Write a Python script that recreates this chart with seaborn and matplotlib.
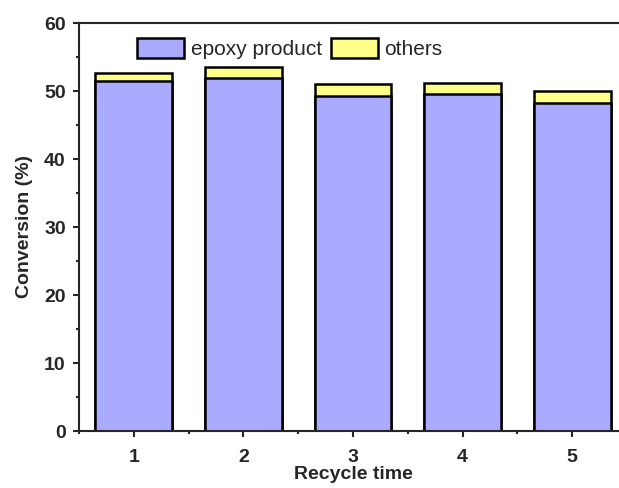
import matplotlib
matplotlib.use("Agg")
import matplotlib.pyplot as plt
from matplotlib.patches import Patch
from matplotlib.ticker import MultipleLocator
import seaborn as sns
import pandas as pd

# values
recycle = ["1", "2", "3", "4", "5"]
epoxy = [51.4, 51.9, 49.3, 49.6, 48.2]
others = [1.3, 1.6, 1.7, 1.6, 1.8]

epoxy_color = "#AAAAFF"
others_color = "#FFFF88"

sns.set_style("ticks")
plt.rcParams["font.family"] = ["Liberation Sans", "DejaVu Sans"]

df = pd.DataFrame({"recycle": recycle, "epoxy": epoxy, "others": others})
df["total"] = df["epoxy"] + df["others"]

fig = plt.figure(figsize=(6.19, 4.88), dpi=100)
ax = fig.add_axes([79 / 619, 1 - 431 / 488, 548 / 619, 408 / 488])

# stacked bars: draw the total in yellow, then the epoxy part over it
sns.barplot(data=df, x="recycle", y="total", color=others_color, width=0.7,
            edgecolor="black", linewidth=1.8, saturation=1, ax=ax)
sns.barplot(data=df, x="recycle", y="epoxy", color=epoxy_color, width=0.7,
            edgecolor="black", linewidth=1.8, saturation=1, ax=ax)

ax.set_xlim(-0.5, 4.5)
ax.set_ylim(0, 60)
ax.yaxis.set_major_locator(MultipleLocator(10))
ax.yaxis.set_minor_locator(MultipleLocator(5))
ax.xaxis.set_minor_locator(MultipleLocator(0.5))
ax.tick_params(axis="both", which="major", direction="out", length=4.5, width=1.5,
               labelsize=14)
ax.tick_params(axis="x", which="major", pad=8.5)
ax.tick_params(axis="y", which="major", pad=5)
ax.tick_params(axis="both", which="minor", direction="out", length=2.5, width=1.5)
for lbl in ax.get_xticklabels() + ax.get_yticklabels():
    lbl.set_fontweight("bold")

for side in ["left", "right", "top", "bottom"]:
    ax.spines[side].set_visible(True)
    ax.spines[side].set_linewidth(1.5)

ax.set_xlabel("Recycle time", fontsize=14, fontweight="bold", labelpad=0)
ax.set_ylabel("Conversion (%)", fontsize=14, fontweight="bold", labelpad=8)

handles = [Patch(facecolor=epoxy_color, edgecolor="black", linewidth=1.8, label="epoxy product"),
           Patch(facecolor=others_color, edgecolor="black", linewidth=1.8, label="others")]
ax.legend(handles=handles, ncol=2, frameon=False, fontsize=15,
          handlelength=2.25, handleheight=1.15, handletextpad=0.3,
          columnspacing=0.45, loc="upper left", bbox_to_anchor=(0.08, 1.0),
          borderaxespad=0.3)

fig.savefig("out.png", dpi=100)
